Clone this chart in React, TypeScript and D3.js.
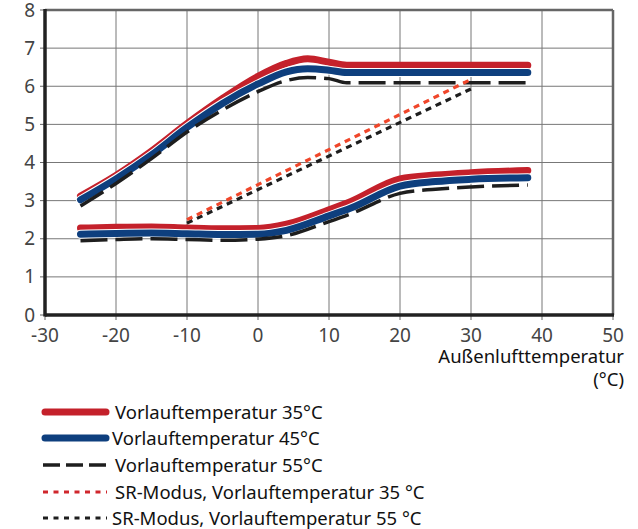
import React from "react";
import * as d3 from "d3";

const xTicks = [-30, -20, -10, 0, 10, 20, 30, 40, 50];
const yTicks = [0, 1, 2, 3, 4, 5, 6, 7, 8];

const upperX = [-25, -20, -15, -10, -5, 0, 4, 7, 10, 12.5, 38];
const upper35 = [3.12, 3.66, 4.3, 5.02, 5.68, 6.26, 6.6, 6.72, 6.63, 6.55, 6.55];
const upper45 = [3.02, 3.57, 4.2, 4.92, 5.55, 6.06, 6.38, 6.46, 6.42, 6.36, 6.36];
const upper55 = [2.86, 3.45, 4.1, 4.8, 5.38, 5.86, 6.15, 6.23, 6.2, 6.09, 6.09];

const lowerX = [-25, -20, -15, -10, -5, 0, 4, 10, 13, 20, 25, 30, 38];
const lower35 = [2.28, 2.3, 2.31, 2.28, 2.26, 2.27, 2.38, 2.76, 2.97, 3.57, 3.67, 3.73, 3.79];
const lower45 = [2.12, 2.14, 2.15, 2.13, 2.11, 2.12, 2.22, 2.6, 2.8, 3.38, 3.5, 3.56, 3.6];
const lower55 = [1.95, 1.98, 2.0, 1.98, 1.96, 1.99, 2.08, 2.45, 2.65, 3.19, 3.3, 3.36, 3.41];

const srX = [-10, 30];
const sr35 = [2.5, 6.18];
const sr55 = [2.41, 5.93];

const legendLabels = [
  "Vorlauftemperatur 35°C",
  "Vorlauftemperatur 45°C",
  "Vorlauftemperatur 55°C",
  "SR-Modus, Vorlauftemperatur 35 °C",
  "SR-Modus, Vorlauftemperatur 55 °C",
];

const RED = "#c4212b";
const BLUE = "#0e3f7e";
const BLACK = "#1e1e1e";
const ORANGE = "#f0462a";
const FONT = "'Noto Sans', sans-serif";

export default function App() {
  const x = d3.scaleLinear().domain([-30, 50]).range([45, 613]);
  const y = d3.scaleLinear().domain([0, 8]).range([315, 10]);

  const smooth = (xs: number[], ys: number[]) =>
    d3
      .line<number>()
      .x((_, i) => x(xs[i]))
      .y((v) => y(v))
      .curve(d3.curveMonotoneX)(ys) as string;
  const straight = (xs: number[], ys: number[]) =>
    d3
      .line<number>()
      .x((_, i) => x(xs[i]))
      .y((v) => y(v))(ys) as string;

  const legendY = [412, 438, 465, 492, 518];
  const legendStyles = [
    { stroke: RED, width: 7, dash: undefined as string | undefined, cap: "round", x1: 45, x2: 106 },
    { stroke: BLUE, width: 7, dash: undefined, cap: "round", x1: 45, x2: 106 },
    { stroke: BLACK, width: 3.5, dash: "17 6", cap: "butt", x1: 43, x2: 107 },
    { stroke: "#d0262c", width: 3, dash: "5 5.5", cap: "butt", x1: 43, x2: 107 },
    { stroke: BLACK, width: 3, dash: "5 5.5", cap: "butt", x1: 43, x2: 107 },
  ];

  return (
    <svg
      width={638}
      height={529}
      style={{ position: "absolute", left: 0, top: 0, background: "#fff" }}
      fontFamily={FONT}
    >
      {/* grid */}
      {xTicks.map((t) => (
        <line key={"gx" + t} x1={x(t)} x2={x(t)} y1={y(0)} y2={y(8)} stroke="#777" strokeWidth={1} />
      ))}
      {yTicks.map((t) => (
        <line key={"gy" + t} x1={x(-30)} x2={x(50)} y1={y(t)} y2={y(t)} stroke="#777" strokeWidth={1} />
      ))}
      {/* tick stubs */}
      {xTicks.map((t) => (
        <line key={"tx" + t} x1={x(t)} x2={x(t)} y1={y(0)} y2={y(0) + 5} stroke="#666" strokeWidth={1} />
      ))}
      {yTicks.map((t) => (
        <line key={"ty" + t} x1={x(-30) - 5} x2={x(-30)} y1={y(t)} y2={y(t)} stroke="#666" strokeWidth={1} />
      ))}
      {/* frame */}
      <line x1={x(-30)} x2={x(50)} y1={y(8)} y2={y(8)} stroke="#666" strokeWidth={2.5} />
      <line x1={x(50)} x2={x(50)} y1={y(8)} y2={y(0)} stroke="#666" strokeWidth={2.5} />
      <line x1={x(-30)} x2={x(50) + 1} y1={y(0)} y2={y(0)} stroke="#222" strokeWidth={3.5} />
      <line x1={x(-30)} x2={x(-30)} y1={y(8) - 1} y2={y(0) + 1.5} stroke="#222" strokeWidth={3.5} />

      {/* tick labels */}
      {xTicks.map((t) => (
        <text key={"lx" + t} x={x(t)} y={342} textAnchor="middle" fontSize={19} fill="#444">
          {t < 0 ? "-" + Math.abs(t) : t}
        </text>
      ))}
      {yTicks.map((t) => (
        <text key={"ly" + t} x={35} y={y(t) + 6.5} textAnchor="end" fontSize={19} fill="#444">
          {t}
        </text>
      ))}
      <text x={624} y={363} textAnchor="end" fontSize={18.5} fill="#111">
        Außenlufttemperatur
      </text>
      <text x={624} y={386} textAnchor="end" fontSize={18.5} fill="#111">
        (°C)
      </text>

      {/* curves */}
      {[
        [upperX, upper35],
        [lowerX, lower35],
      ].map(([xs, ys], i) => (
        <path key={"r" + i} d={smooth(xs, ys)} fill="none" stroke={RED} strokeWidth={7} strokeLinecap="round" />
      ))}
      {[
        [upperX, upper45],
        [lowerX, lower45],
      ].map(([xs, ys], i) => (
        <g key={"b" + i}>
          <path d={smooth(xs, ys)} fill="none" stroke="#fff" strokeWidth={9} strokeLinecap="round" />
          <path d={smooth(xs, ys)} fill="none" stroke={BLUE} strokeWidth={7} strokeLinecap="round" />
        </g>
      ))}
      {[
        [upperX, upper55],
        [lowerX, lower55],
      ].map(([xs, ys], i) => (
        <path key={"k" + i} d={smooth(xs, ys)} fill="none" stroke={BLACK} strokeWidth={3.5} strokeDasharray="27 8" />
      ))}
      <path d={straight(srX, sr55)} fill="none" stroke={BLACK} strokeWidth={3.2} strokeDasharray="6 5" />
      <path d={straight(srX, sr35)} fill="none" stroke={ORANGE} strokeWidth={3.2} strokeDasharray="6 5" />

      {/* legend */}
      {legendLabels.map((label, i) => {
        const s = legendStyles[i];
        return (
          <g key={"lg" + i}>
            <line
              x1={s.x1}
              x2={s.x2}
              y1={legendY[i]}
              y2={legendY[i]}
              stroke={s.stroke}
              strokeWidth={s.width}
              strokeDasharray={s.dash}
              strokeLinecap={s.cap as any}
            />
            <text x={i === 1 || i === 4 ? 112 : 115} y={legendY[i] + 6.5} fontSize={18.5} fill="#111">
              {label}
            </text>
          </g>
        );
      })}
    </svg>
  );
}
